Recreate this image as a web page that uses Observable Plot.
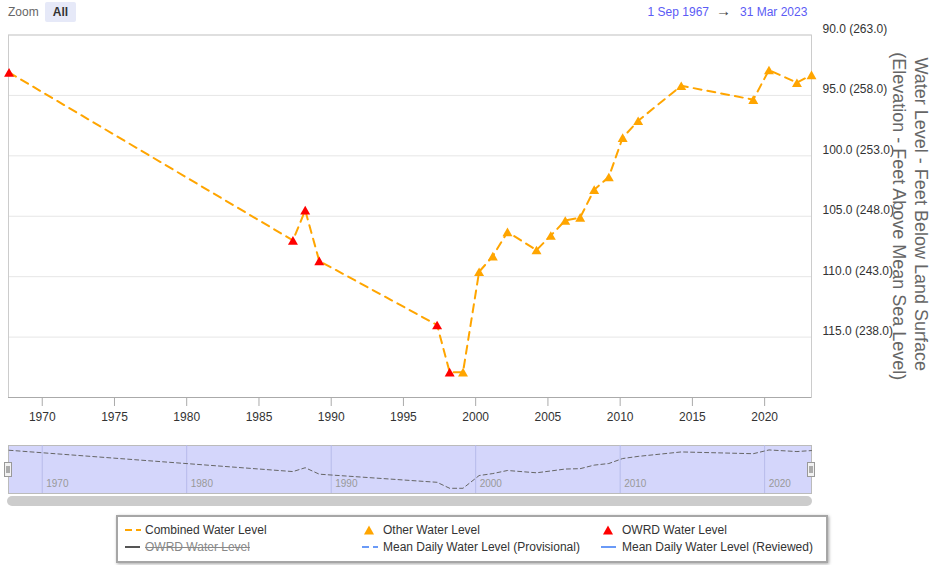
<!DOCTYPE html>
<html><head><meta charset="utf-8">
<script src="https://cdn.jsdelivr.net/npm/d3@7"></script>
<script src="https://cdn.jsdelivr.net/npm/@observablehq/plot@0.6"></script>
<style>
body{margin:0;background:#fff;}
#wrap{position:relative;width:933px;height:565px;font-family:"Liberation Sans",Arial,sans-serif;overflow:hidden;background:#fff}
.abs{position:absolute;white-space:nowrap}
svg{overflow:visible}
</style></head><body><div id="wrap"></div>
<script>
// ---- data ----
const dates = ["1967-09-15","1987-05-10","1988-03-15","1989-03-05","1997-05-01","1998-03-15",
  "1999-02-15","2000-03-28","2001-03-10","2002-03-15","2004-03-18","2005-03-15","2006-03-15",
  "2007-03-28","2008-03-15","2009-03-20","2010-03-05","2011-04-01","2014-03-25","2019-03-20",
  "2020-04-20","2022-03-28","2023-03-31"];
const levels = [93.1,107.0,104.5,108.7,114.0,117.9,
  117.9,109.6,108.3,106.3,107.8,106.6,105.35,
  105.1,102.8,101.75,98.5,97.1,94.2,95.35,
  92.9,93.95,93.3];
const sources = ["OWRD","OWRD","OWRD","OWRD","OWRD","OWRD",
  "Other","Other","Other","Other","Other","Other","Other",
  "Other","Other","Other","Other","Other","Other","Other",
  "Other","Other","Other"];
const xTickYears = [1970,1975,1980,1985,1990,1995,2000,2005,2010,2015,2020];
const navTickYears = [1970,1980,1990,2000,2010,2020];
const yTicks = [90,95,100,105,110,115];
const yDomain = [90,120];
const landSurfaceElevation = 353;
const yTitle = ["Water Level - Feet Below Land Surface","(Elevation - Feet Above Mean Sea Level)"];
const rangeStart = "1967-09-01", rangeEnd = "2023-03-31";
const rangeLabels = ["1 Sep 1967","31 Mar 2023"];
const zoomLabels = ["Zoom","All"];
const legendLabels = ["Combined Water Level","Other Water Level","OWRD Water Level",
  "OWRD Water Level","Mean Daily Water Level (Provisional)","Mean Daily Water Level (Reviewed)"];
const legendSymbols = ["dash","triangle","triangle","line","dash","line"];
const legendColors = ["#FFA500","#FFA500","#FF0000","#555555","#6a9af7","#6a9af7"];
const legendHidden = [false,false,false,true,false,false];

// ---- build ----
const data = dates.map((d,i)=>({date:new Date(d), level:levels[i], source:sources[i]}));
const xDomain = [new Date(rangeStart), new Date(rangeEnd)];
const yr = y => new Date(Date.UTC(y,0,1));
const fmtY = d => `${d.toFixed(1)} (${(landSurfaceElevation-d).toFixed(1)})`;
const style = {fontFamily:'"Liberation Sans",Arial,sans-serif', fontSize:"12px", color:"#333", background:"transparent", overflow:"visible"};
const wrap = document.getElementById("wrap");

const main = Plot.plot({
  width:933, height:430, marginLeft:8, marginRight:122, marginTop:34.5, marginBottom:33,
  style,
  x:{type:"utc", domain:xDomain},
  y:{domain:yDomain, reverse:true},
  marks:[
    Plot.gridY(yTicks,{stroke:"#e6e6e6", strokeOpacity:1}),
    Plot.frame({stroke:"#cccccc"}),
    Plot.ruleY([yDomain[1]],{stroke:"#aaaaaa"}),
    Plot.axisX(xTickYears.map(yr),{tickSize:9, tickPadding:6, stroke:"#aaaaaa", strokeOpacity:1, fill:"#333", fontSize:12, tickFormat:d3.utcFormat("%Y"), label:null}),
    Plot.axisY(yTicks,{anchor:"right", tickSize:0, tickPadding:11, dy:-6, fill:"#333", fontSize:12, tickFormat:fmtY, label:null}),
    Plot.line(data,{x:"date", y:"level", stroke:"#FFA500", strokeWidth:2, strokeDasharray:"8,6"}),
    Plot.dot(data.filter(d=>d.source==="Other"),{x:"date", y:"level", symbol:"triangle", r:3.7, fill:"#FFA500", stroke:"none", dy:1.4}),
    Plot.dot(data.filter(d=>d.source==="OWRD"),{x:"date", y:"level", symbol:"triangle", r:3.7, fill:"#FF0000", stroke:"none", dy:1.4}),
    Plot.text([yTitle[0]],{text:d=>d, frameAnchor:"right", textAnchor:"middle", lineAnchor:"middle", dx:109, dy:-2, rotate:90, fontSize:18, fill:"#666"}),
    Plot.text([yTitle[1]],{text:d=>d, frameAnchor:"right", textAnchor:"middle", lineAnchor:"middle", dx:87, rotate:90, fontSize:18, fill:"#666"})
  ]
});
main.style.position="absolute"; main.style.left="0px"; main.style.top="0px";
wrap.appendChild(main);

const nav = Plot.plot({
  width:933, height:48, marginLeft:8, marginRight:122, marginTop:0, marginBottom:0,
  style,
  x:{type:"utc", domain:xDomain, axis:null},
  y:{domain:[90,121.3], reverse:true, axis:null},
  marks:[
    Plot.frame({fill:"#d4d6fb", stroke:"#bbbbbb"}),
    Plot.ruleX(navTickYears.map(yr),{stroke:"#b7bbea"}),
    Plot.text(navTickYears.map(yr),{x:d=>d, text:d3.utcFormat("%Y"), frameAnchor:"bottom", textAnchor:"start", dx:4, dy:-7, fill:"#999", fontSize:10}),
    Plot.line(data,{x:"date", y:"level", stroke:"#666", strokeWidth:1, strokeDasharray:"4,3"})
  ]
});
nav.style.position="absolute"; nav.style.left="0px"; nav.style.top="445px";
wrap.appendChild(nav);

function el(html){ const t=document.createElement("div"); t.innerHTML=html; const e=t.firstElementChild; wrap.appendChild(e); return e; }

// header
el(`<div class="abs" style="left:8px;top:4px;font-size:12px;color:#666;line-height:16px">${zoomLabels[0]}</div>`);
el(`<div class="abs" style="left:45px;top:2px;width:31px;height:20px;background:#e6e9f8;border-radius:2px;font-size:12px;font-weight:bold;color:#333;line-height:20px;text-align:center">${zoomLabels[1]}</div>`);
el(`<div class="abs" style="right:224px;top:4px;font-size:12px;color:#5b5bf5;line-height:16px">${rangeLabels[0]}</div>`);
el(`<div class="abs" style="left:716px;top:3px;font-size:15px;color:#444;line-height:16px">→</div>`);
el(`<div class="abs" style="left:740px;top:4px;font-size:12px;color:#5b5bf5;line-height:16px">${rangeLabels[1]}</div>`);

// navigator handles
function handle(cx){
  el(`<svg class="abs" style="left:${cx-4}px;top:462px" width="8" height="15"><rect x="0.5" y="0.5" width="7" height="14" fill="#f2f2f2" stroke="#999"/><line x1="3" y1="4" x2="3" y2="11" stroke="#666"/><line x1="5" y1="4" x2="5" y2="11" stroke="#666"/></svg>`);
}
handle(8); handle(811);
// scrollbar
el(`<div class="abs" style="left:7px;top:496px;width:805px;height:10px;background:#cccccc;border-radius:5px"></div>`);

// legend
el(`<div class="abs" style="left:116px;top:515px;width:708px;height:44px;border:2px solid #a6a6a6;box-shadow:1px 1px 3px rgba(0,0,0,0.35);background:#fff"></div>`);
const colX = [125,362,601];
const rowY = [530,547];
legendLabels.forEach((lab,i)=>{
  const cx = colX[i%3], cy = rowY[Math.floor(i/3)];
  const c = legendColors[i];
  let sym;
  if(legendSymbols[i]==="dash") sym=`<line x1="0" y1="5" x2="16" y2="5" stroke="${c}" stroke-width="2" stroke-dasharray="7,4"/>`;
  else if(legendSymbols[i]==="line") sym=`<line x1="0" y1="5" x2="15" y2="5" stroke="${c}" stroke-width="2"/>`;
  else sym=`<polygon points="7,0.5 12,9.5 2,9.5" fill="${c}"/>`;
  el(`<svg class="abs" style="left:${cx}px;top:${cy-5}px" width="16" height="10">${sym}</svg>`);
  const tx = cx + (i%3===0 ? 20 : 21);
  el(`<div class="abs" style="left:${tx}px;top:${cy-8}px;font-size:12px;line-height:16px;color:${legendHidden[i]?"#888":"#333"};${legendHidden[i]?"text-decoration:line-through;":""}">${lab}</div>`);
});
</script></body></html>
